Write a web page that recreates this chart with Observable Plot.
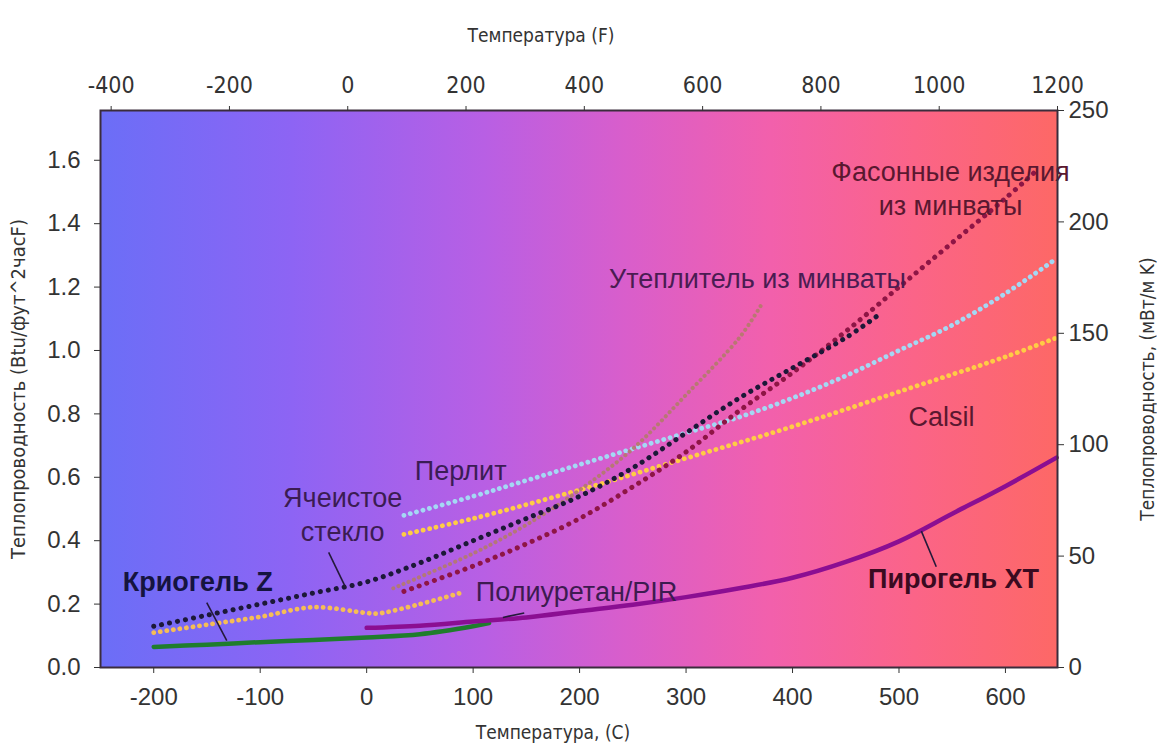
<!DOCTYPE html>
<html><head><meta charset="utf-8">
<script src="https://cdn.jsdelivr.net/npm/d3@7"></script>
<script src="https://cdn.jsdelivr.net/npm/@observablehq/plot@0.6"></script>
<style>
body{margin:0;background:#fff;}
#chart svg{display:block;}
</style></head><body><div id="chart"></div>
<script>
// ---- data (temperature °C, conductivity Btu·in/ft²·h·°F) ----
const cryogelT = [-200,-150,-100,-50,0,50,100,115];
const cryogelK = [0.065,0.072,0.080,0.087,0.095,0.105,0.130,0.140];

const pyrogelT = [0,50,100,150,200,250,300,350,400,450,500,550,600,648];
const pyrogelK = [0.125,0.132,0.145,0.158,0.178,0.198,0.222,0.250,0.283,0.333,0.398,0.485,0.572,0.662];

const glassT = [-200,-150,-100,-50,0,50,100,150,200,250,300,350,400,450,480];
const glassK = [0.130,0.165,0.200,0.235,0.270,0.330,0.400,0.470,0.540,0.630,0.740,0.850,0.945,1.040,1.110];

const perliteT = [35,100,150,200,250,300,350,400,450,500,550,600,648];
const perliteK = [0.480,0.540,0.590,0.640,0.690,0.740,0.790,0.850,0.920,1.000,1.080,1.180,1.290];

const calsilT = [35,100,200,300,400,500,600,648];
const calsilK = [0.420,0.470,0.560,0.660,0.760,0.870,0.980,1.040];

const pirT = [-200,-150,-100,-50,0,10,50,88];
const pirK = [0.110,0.135,0.160,0.190,0.172,0.170,0.200,0.235];

const mwInsT = [25,100,150,200,250,300,350,370];
const mwInsK = [0.250,0.360,0.450,0.560,0.690,0.860,1.040,1.140];

const mwPipeT = [35,100,150,200,250,300,350,400,450,500,550,600,630];
const mwPipeK = [0.240,0.320,0.390,0.470,0.570,0.680,0.810,0.930,1.060,1.200,1.340,1.480,1.570];

const series = [
  {name:"cryogel", t:cryogelT, k:cryogelK},
  {name:"pyrogel", t:pyrogelT, k:pyrogelK},
  {name:"pir", t:pirT, k:pirK},
  {name:"perlite", t:perliteT, k:perliteK},
  {name:"calsil", t:calsilT, k:calsilK},
  {name:"mwIns", t:mwInsT, k:mwInsK},
  {name:"mwPipe", t:mwPipeT, k:mwPipeK},
  {name:"glass", t:glassT, k:glassK}
];

// tick values
const bottomTicksC = [-200,-100,0,100,200,300,400,500,600];
const topTicksF = [-400,-200,0,200,400,600,800,1000,1200];
const leftTicks = [0,0.2,0.4,0.6,0.8,1.0,1.2,1.4,1.6];
const rightTicksMW = [0,50,100,150,200,250];

// annotation labels (data coordinates)
const labelText = ["Криогель Z","Ячеистое\nстекло","Перлит","Полиуретан/PIR","Утеплитель из минваты","Фасонные изделия\nиз минваты","Calsil","Пирогель XT"];
const labelT = [-158.7,-22.5,88.3,197.2,367.1,548.4,539.9,551.2];
const labelK = [0.274,0.486,0.625,0.243,1.230,1.514,0.795,0.284];

// leader lines
const leaderT1 = [-150.2,-35.7,128,535];
const leaderK1 = [0.205,0.363,0.158,0.318];
const leaderT2 = [-131.4,-19.7,148,521];
const leaderK2 = [0.085,0.252,0.172,0.430];

// ---- styles ----
const K = 250 / 1.757;
const xMax = (1200 - 32) * 5 / 9;
const dots = {strokeDasharray:"0.1 6.5", strokeLinecap:"round"};
const styles = {
  cryogel:{stroke:"#1f7d2c", strokeWidth:4.5},
  pyrogel:{stroke:"#8b0e92", strokeWidth:4.5},
  pir:{stroke:"#f6bd55", strokeWidth:4.8, ...dots},
  perlite:{stroke:"#a4d8f4", strokeWidth:4.8, ...dots},
  calsil:{stroke:"#ffcc45", strokeWidth:4.8, ...dots},
  mwIns:{stroke:"#b47a6a", strokeWidth:4, strokeDasharray:"0.1 5.5", strokeLinecap:"round", strokeOpacity:0.9},
  mwPipe:{stroke:"#8e1545", strokeWidth:5, strokeDasharray:"0.1 8", strokeLinecap:"round"},
  glass:{stroke:"#1c1838", strokeWidth:5, strokeDasharray:"0.1 8", strokeLinecap:"round"}
};
const labelStyle = [
  {fill:"#15143f", fontWeight:"bold"},
  {fill:"#3b1c52"},
  {fill:"#3b1c55"},
  {fill:"#3d1b50"},
  {fill:"#4a1c52"},
  {fill:"#5a1830"},
  {fill:"#5a1830"},
  {fill:"#3a0a20", fontWeight:"bold"}
];

const lineMarks = series.map(s => {
  const rows = s.t.map((t, i) => ({t, k: s.k[i]}));
  return Plot.line(rows, {x:"t", y:"k", curve:"catmull-rom", ...styles[s.name]});
});

const labelMarks = labelText.map((txt, i) =>
  Plot.text([{t:labelT[i], k:labelK[i], s:txt}], {x:"t", y:"k", text:"s", fontSize:27, lineHeight:1.25, ...labelStyle[i]})
);

const leaders = leaderT1.map((t, i) => ({t1:t, k1:leaderK1[i], t2:leaderT2[i], k2:leaderK2[i]}));

const FONT = "'Liberation Sans', Arial, sans-serif";
const NARROW = "'Liberation Sans Narrow', 'DejaVu Sans Condensed', sans-serif";

const plot = Plot.plot({
  width: 1157,
  height: 751,
  marginLeft: 100,
  marginRight: 100,
  marginTop: 110,
  marginBottom: 84,
  style: {fontFamily: FONT, color: "#333", background: "#fff"},
  x: {domain: [-250, xMax]},
  y: {domain: [0, 1.757]},
  marks: [
    Plot.frame({fill: "url(#bggrad)", stroke: "none"}),
    ...lineMarks,
    Plot.link(leaders, {x1:"t1", y1:"k1", x2:"t2", y2:"k2", stroke:"#241a3a", strokeWidth:1.6}),
    ...labelMarks,
    Plot.frame({stroke: "#3b2c3c", strokeWidth: 2}),
    Plot.axisX({anchor:"bottom", ticks: bottomTicksC, tickFormat: d => String(d), fontSize: 24, tickSize: 6, tickPadding: 14, label: null, fill:"#333"}),
    Plot.axisX({anchor:"top", ticks: topTicksF.map(f => (f - 32) * 5 / 9), tickFormat: c => String(Math.round(c * 9 / 5 + 32)), fontSize: 23, fontFamily: NARROW, tickSize: 5, tickPadding: 13, label: null, fill:"#333"}),
    Plot.axisY({anchor:"left", ticks: leftTicks, tickFormat: d => d.toFixed(1), fontSize: 24, tickSize: 6, tickPadding: 14, label: null, fill:"#333"}),
    Plot.axisY({anchor:"right", ticks: rightTicksMW.map(m => m / K), tickFormat: v => String(Math.round(v * K)), fontSize: 24, tickSize: 6, tickPadding: 5, label: null, fill:"#333"}),
    Plot.text(["Температура (F)"], {text: d => d, frameAnchor:"top", dx:-38, dy:-82, fontSize:19, fontFamily: NARROW, fill:"#333"}),
    Plot.text(["Температура, (C)"], {text: d => d, frameAnchor:"bottom", dx:-26, dy:71, fontSize:19, fontFamily: NARROW, fill:"#333"}),
    Plot.text(["Теплопроводность (Btu/фут^2часF)"], {text: d => d, frameAnchor:"left", textAnchor:"middle", dx:-82, rotate:-90, fontSize:20, fontFamily: NARROW, fill:"#333"}),
    Plot.text(["Теплопроводность, (мВт/м K)"], {text: d => d, frameAnchor:"right", textAnchor:"middle", dx:90, rotate:-90, fontSize:19, fontFamily: NARROW, fill:"#333"})
  ]
});

// gradient definition for frame background
const svgNS = "http://www.w3.org/2000/svg";
const defs = document.createElementNS(svgNS, "defs");
const grad = document.createElementNS(svgNS, "linearGradient");
grad.setAttribute("id", "bggrad");
grad.setAttribute("x1", "0"); grad.setAttribute("x2", "1");
grad.setAttribute("y1", "0"); grad.setAttribute("y2", "0");
const stops = [[0,"#6b6ef7"],[0.2,"#8d64f4"],[0.4,"#b85fe4"],[0.55,"#d95ecb"],[0.7,"#f260ac"],[0.85,"#fb6488"],[1,"#fd6866"]];
stops.forEach(([o,c]) => {
  const s = document.createElementNS(svgNS, "stop");
  s.setAttribute("offset", o); s.setAttribute("stop-color", c);
  grad.appendChild(s);
});
defs.appendChild(grad);
plot.insertBefore(defs, plot.firstChild);

document.getElementById("chart").appendChild(plot);
</script>
</body></html>
